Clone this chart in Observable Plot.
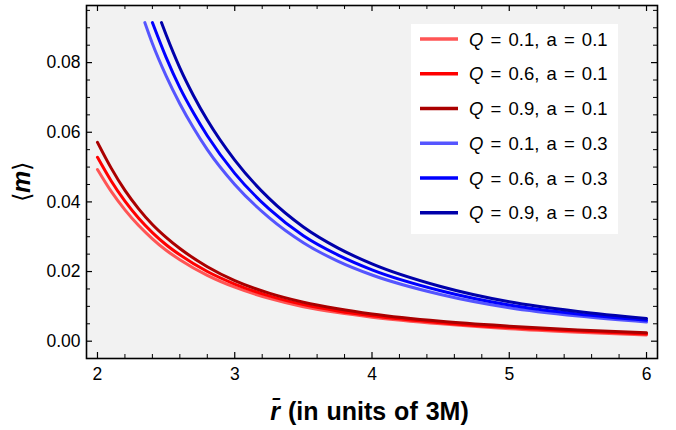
<!DOCTYPE html>
<html>
<head>
<meta charset="utf-8">
<script src="https://cdn.jsdelivr.net/npm/d3@7"></script>
<script src="https://cdn.jsdelivr.net/npm/@observablehq/plot@0.6"></script>
<style>
  html, body { margin: 0; padding: 0; background: #ffffff; }
  #chart { width: 676px; height: 430px; }
</style>
</head>
<body>
<div id="chart"></div>
<script>
// ---- data ----
const rRed = [2.0, 2.1, 2.2, 2.3, 2.4, 2.5, 2.6, 2.8, 3.0, 3.25, 3.5, 3.75, 4.0, 4.5, 5.0, 5.5, 6.0];
const mQ01a01 = [0.0493, 0.0430, 0.0377, 0.0332, 0.0294, 0.0261, 0.0234, 0.0189, 0.0155, 0.0123, 0.0099, 0.0082, 0.0069, 0.0050, 0.0036, 0.0026, 0.0018];
const mQ06a01 = [0.0528, 0.0460, 0.0402, 0.0353, 0.0312, 0.0277, 0.0248, 0.0200, 0.0164, 0.0130, 0.0105, 0.0087, 0.0073, 0.0053, 0.0039, 0.0029, 0.0021];
const mQ09a01 = [0.0571, 0.0497, 0.0433, 0.0380, 0.0335, 0.0298, 0.0266, 0.0214, 0.0174, 0.0138, 0.0112, 0.0093, 0.0078, 0.0057, 0.0043, 0.0032, 0.0024];

const rQ01a03 = [2.345, 2.4, 2.5, 2.6, 2.7, 2.8, 3.0, 3.25, 3.5, 3.75, 4.0, 4.5, 5.0, 5.5, 6.0];
const mQ01a03 = [0.0915, 0.0855, 0.0762, 0.0682, 0.0612, 0.0550, 0.0450, 0.0355, 0.0283, 0.0230, 0.0190, 0.0134, 0.0096, 0.0072, 0.0055];
const rQ06a03 = [2.40, 2.5, 2.6, 2.7, 2.8, 3.0, 3.25, 3.5, 3.75, 4.0, 4.5, 5.0, 5.5, 6.0];
const mQ06a03 = [0.0915, 0.0815, 0.0728, 0.0655, 0.0590, 0.0482, 0.0380, 0.0303, 0.0248, 0.0205, 0.0145, 0.0104, 0.0078, 0.0060];
const rQ09a03 = [2.466, 2.5, 2.6, 2.7, 2.8, 3.0, 3.25, 3.5, 3.75, 4.0, 4.5, 5.0, 5.5, 6.0];
const mQ09a03 = [0.0915, 0.0880, 0.0785, 0.0705, 0.0635, 0.0520, 0.0410, 0.0328, 0.0268, 0.0222, 0.0157, 0.0113, 0.0085, 0.0065];

const seriesQ = ["0.1", "0.6", "0.9", "0.1", "0.6", "0.9"];
const seriesA = ["0.1", "0.1", "0.1", "0.3", "0.3", "0.3"];
const seriesColors = ["#ff5555", "#ff0000", "#aa0000", "#5555ff", "#0000ff", "#0000aa"];

const xTicks = [2, 3, 4, 5, 6];
const yTicks = [0.00, 0.02, 0.04, 0.06, 0.08];
const xMinorTicks = [2.2, 2.4, 2.6, 2.8, 3.2, 3.4, 3.6, 3.8, 4.2, 4.4, 4.6, 4.8, 5.2, 5.4, 5.6, 5.8];
const yMinorTicks = [0.005, 0.01, 0.015, 0.025, 0.03, 0.035, 0.045, 0.05, 0.055, 0.065, 0.07, 0.075, 0.085, 0.09, 0.095];

// ---- build table ----
const rs = [rRed, rRed, rRed, rQ01a03, rQ06a03, rQ09a03];
const ms = [mQ01a01, mQ06a01, mQ09a01, mQ01a03, mQ06a03, mQ09a03];
const rows = [];
rs.forEach((rArr, i) => rArr.forEach((r, j) => rows.push({series: i, r, m: ms[i][j]})));

// ---- layout ----
const W = 676, H = 430;
const mL = 86, mR = 19, mT = 5, mB = 72;
const frameH = H - mT - mB, frameW = W - mL - mR;
const FONT = "'Liberation Sans', Arial, Helvetica, sans-serif";

const marks = [
  Plot.frame({fill: "#f2f2f2", stroke: null})
];
for (let i = 0; i < 6; i++) {
  marks.push(Plot.line(rows.filter(d => d.series === i), {
    x: "r", y: "m", stroke: seriesColors[i], strokeWidth: 3, curve: "monotone-x"
  }));
}
// ticks (inward, on all four sides)
marks.push(
  Plot.tickX(xTicks, {x: d => d, insetTop: frameH - 6, stroke: "#000", strokeWidth: 1.2}),
  Plot.tickX(xTicks, {x: d => d, insetBottom: frameH - 6, stroke: "#000", strokeWidth: 1.2}),
  Plot.tickX(xMinorTicks, {x: d => d, insetTop: frameH - 4, stroke: "#000", strokeWidth: 1}),
  Plot.tickX(xMinorTicks, {x: d => d, insetBottom: frameH - 4, stroke: "#000", strokeWidth: 1}),
  Plot.tickY(yTicks, {y: d => d, insetRight: frameW - 6, stroke: "#000", strokeWidth: 1.2}),
  Plot.tickY(yTicks, {y: d => d, insetLeft: frameW - 6, stroke: "#000", strokeWidth: 1.2}),
  Plot.tickY(yMinorTicks, {y: d => d, insetRight: frameW - 4, stroke: "#000", strokeWidth: 1}),
  Plot.tickY(yMinorTicks, {y: d => d, insetLeft: frameW - 4, stroke: "#000", strokeWidth: 1}),
  Plot.axisX(xTicks, {anchor: "bottom", tickSize: 0, tickPadding: 9, fontSize: 17.5, tickFormat: d => String(d), label: null}),
  Plot.axisY(yTicks, {anchor: "left", tickSize: 0, tickPadding: 6, fontSize: 17.5, tickFormat: d3.format(".2f"), label: null}),
  Plot.frame({stroke: "#000", strokeWidth: 1.6, fill: null})
);

const chart = Plot.plot({
  width: W, height: H,
  marginLeft: mL, marginRight: mR, marginTop: mT, marginBottom: mB,
  x: {domain: [1.92, 6.08]},
  y: {domain: [-0.00497, 0.0964]},
  style: {fontFamily: FONT, color: "#000", background: "#ffffff", overflow: "visible"},
  marks
});
document.getElementById("chart").appendChild(chart);

// ---- axis titles and legend ----
const svg = d3.select(chart);

const xl = svg.append("text")
  .attr("x", mL + frameW / 2 - 2).attr("y", 420)
  .attr("text-anchor", "middle")
  .style("font-family", FONT).style("font-size", "25px").style("font-weight", "bold")
  .style("word-spacing", "1px")
  .attr("fill", "#000");
xl.append("tspan").style("font-style", "italic").text("r\u0304");
xl.append("tspan").text(" (in units of 3M)");

const yl = svg.append("text")
  .attr("transform", "translate(30,182) rotate(-90)")
  .attr("text-anchor", "middle")
  .style("font-family", "'DejaVu Sans', " + FONT).style("font-size", "24px")
  .attr("fill", "#000");
yl.append("tspan").style("font-weight", "300").text("\u27E8");
yl.append("tspan").style("font-style", "italic").style("font-weight", "bold").style("font-family", FONT).style("font-size", "25px").text("m");
yl.append("tspan").style("font-weight", "300").text("\u27E9");

const lg = svg.append("g");
lg.append("rect").attr("x", 411).attr("y", 24).attr("width", 207).attr("height", 210).attr("fill", "#ffffff");
seriesColors.forEach((c, i) => {
  const y = 39 + i * 34.75;
  lg.append("line").attr("x1", 420).attr("x2", 458).attr("y1", y).attr("y2", y)
    .attr("stroke", c).attr("stroke-width", 3.5);
  const t = lg.append("text").attr("x", 469).attr("y", y).attr("dy", "0.36em")
    .attr("text-anchor", "start")
    .style("font-family", FONT).style("font-size", "18.5px").style("word-spacing", "2px")
    .attr("fill", "#000");
  t.append("tspan").style("font-style", "italic").text("Q");
  t.append("tspan").text(` = ${seriesQ[i]}, a = ${seriesA[i]}`);
});
</script>
</body>
</html>
